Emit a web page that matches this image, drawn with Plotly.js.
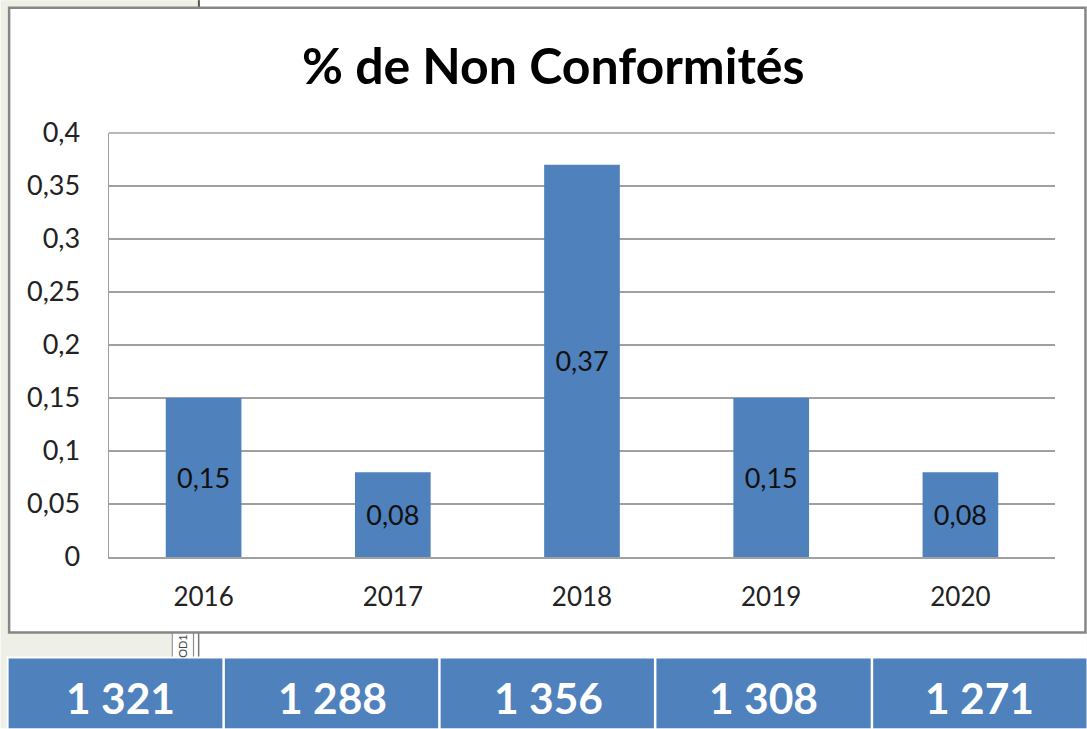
<!DOCTYPE html>
<html><head><meta charset="utf-8">
<script src="https://cdn.plot.ly/plotly-3.0.1.min.js"></script>
<style>html,body{margin:0;padding:0;background:#fff;overflow:hidden}#c{width:1087px;height:729px}</style>
</head><body><div id="c"></div>
<script>
const years = ['2016','2017','2018','2019','2020'];
const percentNC = [0.15,0.08,0.37,0.15,0.08];
const valueLabels = ['0,15','0,08','0,37','0,15','0,08'];
const yTicks = [0,0.05,0.1,0.15,0.2,0.25,0.3,0.35,0.4];
const yTickLabels = ['0','0,05','0,1','0,15','0,2','0,25','0,3','0,35','0,4'];
const totals = ['1 321','1 288','1 356','1 308','1 271'];
const cellEdges = [8,223,439,655,872,1087];
const totalCenters = [120,332,548,764,980];

const W=1087,H=729,L=108.5,R=1055.5,T=133,B=557.5;
const px=x=>(x-L)/(R-L), py=y=>(B-y)/(B-T);
const rect=(x0,y0,x1,y1,fill,line,w)=>({type:'rect',xref:'paper',yref:'paper',layer:'below',
  x0:px(x0),x1:px(x1),y0:py(y1),y1:py(y0),fillcolor:fill,line:{color:line||fill,width:w||0}});

const shapes=[
  rect(0,0,W,H,'#eef0e8'),
  rect(199,0,W,7,'#ffffff'),
  rect(172,633,W,658,'#ffffff'),
  rect(197.5,0,199.5,8,'#555555'),
  rect(197.5,633,199,658,'#777777'),
  rect(192.5,633,193.7,658,'#8a8a8a'),
  rect(171.3,633,172.5,658,'#999999'),
  rect(8.5,7.5,1086,633,'#ffffff','#868686',2.5),
  rect(6,657,W,H,'#ffffff'),
  {type:'line',xref:'paper',yref:'paper',x0:0,x1:1,y0:1,y1:1,line:{color:'#a0a0a0',width:1.5}},
];
const annotations=[{xref:'paper',yref:'paper',x:px(553),y:py(65),text:'<b>% de Non Conformités</b>',
  showarrow:false,font:{family:'Lato, sans-serif',size:50,color:'#000'},xanchor:'center',yanchor:'middle'},
  {xref:'paper',yref:'paper',x:px(182),y:py(646),text:'OD1',textangle:-90,showarrow:false,
   font:{family:'Lato, sans-serif',size:11,color:'#444'},xanchor:'center',yanchor:'middle'}];
totals.forEach((t,i)=>{
  const a=cellEdges[i]+(i?1.5:0),b=cellEdges[i+1]-(i<4?1:0);
  shapes.push(rect(a,659,b,H,'#4f81bd'));
  annotations.push({xref:'paper',yref:'paper',x:px(totalCenters[i]),y:py(698),text:'<b>'+t+'</b>',showarrow:false,
    font:{family:'Lato, sans-serif',size:42.5,color:'#fff'},xanchor:'center',yanchor:'middle'});
});

Plotly.newPlot('c',[{type:'bar',x:years,y:percentNC,text:valueLabels,textposition:'inside',insidetextanchor:'middle',
  textangle:0,constraintext:'none',cliponaxis:false,textfont:{family:'Lato, sans-serif',size:27,color:'#111'},
  marker:{color:'#4f81bd',line:{width:0}},width:0.4,hoverinfo:'x+y'}],
{width:W,height:H,margin:{l:L,r:W-R,t:T,b:H-B,pad:0},paper_bgcolor:'rgba(0,0,0,0)',plot_bgcolor:'rgba(0,0,0,0)',
 showlegend:false,shapes,annotations,
 xaxis:{type:'category',showgrid:false,ticks:'outside',tickcolor:'rgba(0,0,0,0)',ticklen:16,showline:true,linecolor:'#a0a0a0',linewidth:1.5,zeroline:false,
   tickfont:{family:'Lato, sans-serif',size:26,color:'#222'},automargin:false},
 yaxis:{range:[0,0.4],tickmode:'array',tickvals:yTicks,ticktext:yTickLabels,showgrid:true,gridcolor:'#a0a0a0',gridwidth:1.5,
   showline:true,linecolor:'#a0a0a0',linewidth:1.5,zeroline:false,ticks:'outside',tickcolor:'rgba(0,0,0,0)',ticklen:22,
   tickfont:{family:'Lato, sans-serif',size:27,color:'#222'},automargin:false}
},{displayModeBar:false,staticPlot:true});
</script></body></html>
